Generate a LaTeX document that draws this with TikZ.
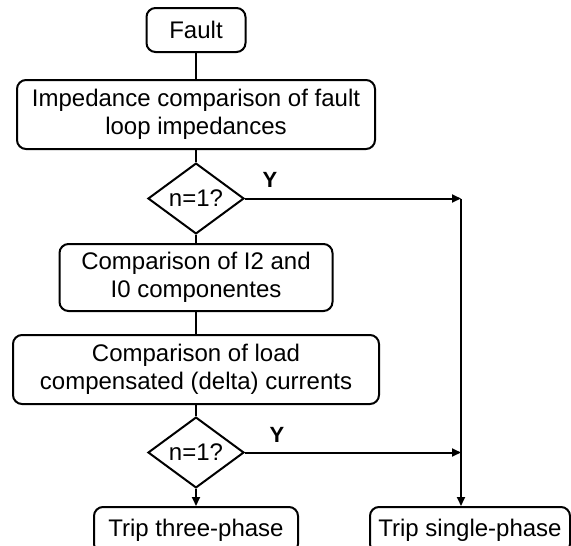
\documentclass[tikz,border=0pt]{standalone}
\usepackage{fontspec}
\setmainfont{Liberation Sans}
\usetikzlibrary{shapes.geometric,arrows.meta}
\begin{document}
\begin{tikzpicture}[x=1pt,y=-1pt,
  every node/.style={font=\fontsize{24}{28}\selectfont},
  box/.style={draw, line width=2pt, rounded corners=9pt, align=center, inner sep=0pt},
  decision/.style={draw, diamond, line width=2pt, inner sep=0pt, minimum width=96pt, minimum height=63pt},
  flow/.style={line width=2pt},
  arrowflow/.style={line width=2pt, -{Triangle[length=9pt,width=8pt]}},
  yes/.style={font=\fontsize{22}{26}\selectfont\bfseries}]
\useasboundingbox (0,0) rectangle (571,546);
\clip (0,0) rectangle (571,546);

% process steps
\node[box, minimum width=99pt, minimum height=44pt] (fault) at (196,30) {Fault};
\node[box, minimum width=358pt, minimum height=69pt] (imp) at (196,114.5)
  {Impedance comparison of fault\\loop impedances};
\node[decision] (d1) at (196,198.5) {n=1?};
\node[box, minimum width=273pt, minimum height=67pt] (seq) at (196,277.5)
  {Comparison of I2 and\\I0 componentes};
\node[box, minimum width=366pt, minimum height=69pt] (load) at (196,369.5)
  {Comparison of load\\compensated (delta) currents};
\node[decision] (d2) at (196,452.5) {n=1?};

% outcomes
\node[box, minimum width=204pt, minimum height=46pt] (three) at (196,530) {Trip three-phase};
\node[box, minimum width=200pt, minimum height=46pt] (single) at (470,530) {Trip single-phase};

% junction line on the right
\coordinate (j1) at (461,198.5);
\coordinate (j2) at (461,452.5);

% connectors
\draw[flow] (fault) -- (imp);
\draw[flow] (imp) -- (d1);
\draw[flow] (d1) -- (seq);
\draw[flow] (seq) -- (load);
\draw[flow] (load) -- (d2);
\draw[arrowflow] (d2) -- (three);
\draw[arrowflow] (d1.east) -- (j1);
\draw[arrowflow] (d2.east) -- (j2);
\draw[arrowflow] (j1) -- (j1 |- single.north);

% branch labels
\node[yes] (y1) at (270,180) {Y};
\node[yes] (y2) at (277,435) {Y};
\end{tikzpicture}
\end{document}
